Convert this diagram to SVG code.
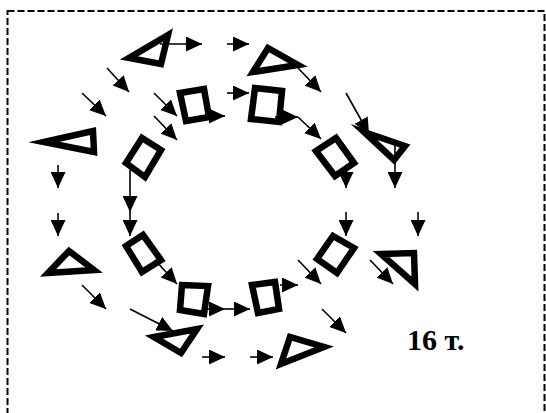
<svg xmlns="http://www.w3.org/2000/svg" width="546" height="413" viewBox="0 0 546 413">
<style>
.frame{fill:none;stroke:#000;stroke-width:2;stroke-dasharray:7 3}
.tri,.sq{fill:none;stroke:#000;stroke-width:6.5;stroke-linejoin:miter;stroke-miterlimit:10}
.arr{stroke:#000;stroke-width:1.6;fill:none;marker-end:url(#ah)}
.lbl{font-family:"Liberation Serif","Times New Roman",serif;font-weight:bold;font-size:30px;fill:#000}
</style>
<defs>
<marker id="ah" markerUnits="userSpaceOnUse" markerWidth="16" markerHeight="15" refX="16" refY="7.5" orient="auto" viewBox="0 0 16 15">
<path d="M0,0 L16,7.5 L0,15 z" fill="#000"/>
</marker>
</defs>
<rect class="frame" x="7.5" y="11" width="537" height="430"/>
<g id="t1"><polygon class="tri" points="168,35 129,58 161,64"/></g>
<g id="t2"><polygon class="tri" points="253,72 268,48 298,65"/></g>
<g id="t3"><polygon class="tri" points="44,142 93,131 94,152"/></g>
<g id="t4"><polygon class="tri" points="364,132 405,146 394,160"/></g>
<g id="t5"><polygon class="tri" points="48,273 69,251 94,270"/></g>
<g id="t6"><polygon class="tri" points="154,337 197,329 181,353"/></g>
<g id="t7"><polygon class="tri" points="281,364 290,337 324,347"/></g>
<g id="t8"><polygon class="tri" points="381,254 414,253 415,284"/></g>
<g id="s1"><polygon class="sq" points="180,93 204,89 209,117 186,121"/></g>
<g id="s2"><polygon class="sq" points="255,88 282,91 279,122 251,119"/></g>
<g id="s3"><polygon class="sq" points="142,138 161,150 145,177 126,163"/></g>
<g id="s4"><polygon class="sq" points="316,151 336,138 354,163 335,176"/></g>
<g id="s5"><polygon class="sq" points="126,246 143,235 161,260 142,272"/></g>
<g id="s6"><polygon class="sq" points="182,285 208,286 204,314 180,310"/></g>
<g id="s7"><polygon class="sq" points="252,285 275,282 279,309 258,313"/></g>
<g id="s8"><polygon class="sq" points="317,259 333,236 354,248 337,273"/></g>
<g id="connectors">
<line class="arr" x1="160" y1="44" x2="202" y2="44"/>
<line class="arr" x1="227" y1="44" x2="249" y2="44"/>
<line class="arr" x1="298" y1="68" x2="321" y2="92"/>
<line class="arr" x1="107" y1="68" x2="129" y2="92"/>
<line class="arr" x1="82" y1="93" x2="106" y2="116"/>
<line class="arr" x1="154" y1="93" x2="177" y2="116"/>
<line class="arr" x1="154" y1="116" x2="177" y2="140"/>
<line class="arr" x1="227" y1="93" x2="249" y2="93"/>
<line class="arr" x1="202" y1="116" x2="225" y2="116"/>
<line class="arr" x1="275" y1="117" x2="298" y2="117"/>
<line class="arr" x1="298" y1="117" x2="321" y2="139"/>
<line class="arr" x1="346" y1="93" x2="369" y2="134"/>
<line class="arr" x1="346" y1="165" x2="346" y2="188"/>
<line class="arr" x1="395" y1="142" x2="395" y2="188"/>
<line class="arr" x1="58" y1="165" x2="58" y2="188"/>
<line class="arr" x1="58" y1="213" x2="58" y2="236"/>
<line class="arr" x1="130" y1="170" x2="130" y2="212"/>
<line class="arr" x1="130" y1="212" x2="130" y2="236"/>
<line class="arr" x1="346" y1="212" x2="346" y2="236"/>
<line class="arr" x1="418" y1="212" x2="418" y2="236"/>
<line class="arr" x1="298" y1="260" x2="321" y2="284"/>
<line class="arr" x1="370" y1="260" x2="393" y2="284"/>
<line class="arr" x1="322" y1="309" x2="346" y2="333"/>
<line class="arr" x1="280" y1="285" x2="298" y2="285"/>
<line class="arr" x1="82" y1="285" x2="106" y2="309"/>
<line class="arr" x1="155" y1="260" x2="177" y2="284"/>
<line class="arr" x1="203" y1="309" x2="225" y2="309"/>
<line class="arr" x1="225" y1="309" x2="250" y2="309"/>
<line class="arr" x1="202" y1="357" x2="225" y2="357"/>
<line class="arr" x1="250" y1="357" x2="273" y2="357"/>
<line class="arr" x1="130" y1="309" x2="173" y2="331"/>
</g>
<text class="lbl" x="407" y="350">16 т.</text>
</svg>
